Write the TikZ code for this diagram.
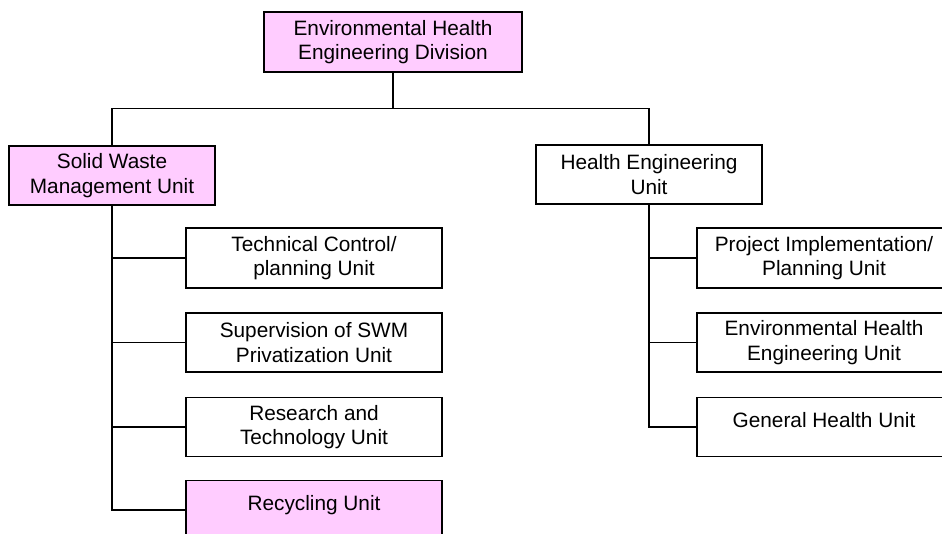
\documentclass[tikz,border=0pt]{standalone}
\usepackage{fontspec}
\setmainfont{Liberation Sans}
\usepackage{xcolor}
\definecolor{unitpink}{RGB}{255,204,255}

\tikzset{
  unit/.style={draw, line width=1.2pt, align=center, inner sep=0pt,
    font=\fontsize{20.8}{24.3}\selectfont},
  pinkunit/.style={unit, fill=unitpink},
  oneline/.style={text height=15pt, text depth=15pt},
  conn/.style={line width=1.1pt},
  trunk/.style={line width=2pt}
}

\begin{document}
\begin{tikzpicture}[x=1pt,y=-1pt]
\useasboundingbox (0,0) rectangle (942,534);
\node[pinkunit, minimum width=258pt, minimum height=60pt] (div) at (393,42) {Environmental Health\\Engineering Division};
\node[pinkunit, minimum width=206pt, minimum height=59pt] (swm) at (112,175.5) {Solid Waste\\Management Unit};
\node[unit, minimum width=226pt, minimum height=59pt] (heu) at (649,174.5) {Health Engineering\\Unit};
% solid waste sub units
\node[unit, minimum width=256pt, minimum height=60pt] (tech) at (314,258) {Technical Control/\\planning Unit};
\node[unit, minimum width=256pt, minimum height=59pt] (sup) at (314,342.5) {Supervision of SWM\\Privatization Unit};
\node[unit, minimum width=256pt, minimum height=59pt] (res) at (314,427) {Research and\\Technology Unit};
\node[pinkunit, oneline, minimum width=256pt, minimum height=59pt] (rec) at (314,510) {Recycling Unit};
% health engineering sub units
\node[unit, minimum width=254pt, minimum height=60pt] (proj) at (824,258) {Project Implementation/\\Planning Unit};
\node[unit, minimum width=254pt, minimum height=59pt] (ehe) at (824,342.5) {Environmental Health\\Engineering Unit};
\node[unit, oneline, minimum width=254pt, minimum height=59pt] (gen) at (824,427) {General Health Unit};
% connectors
\draw[trunk] (div.south) -- ++(0,36);
\draw[conn] (div.south) ++(0,36) -| (swm.north);
\draw[conn] (div.south) ++(0,36) -| (heu.north);
\draw[trunk] (swm.south) -- (swm.south |- res.west);
\foreach \n in {tech,sup,res,rec}
  \draw[conn] (swm.south) |- (\n.west);
\draw[trunk] (heu.south) -- (heu.south |- ehe.west);
\foreach \n in {proj,ehe,gen}
  \draw[conn] (heu.south) |- (\n.west);
\end{tikzpicture}
\end{document}
